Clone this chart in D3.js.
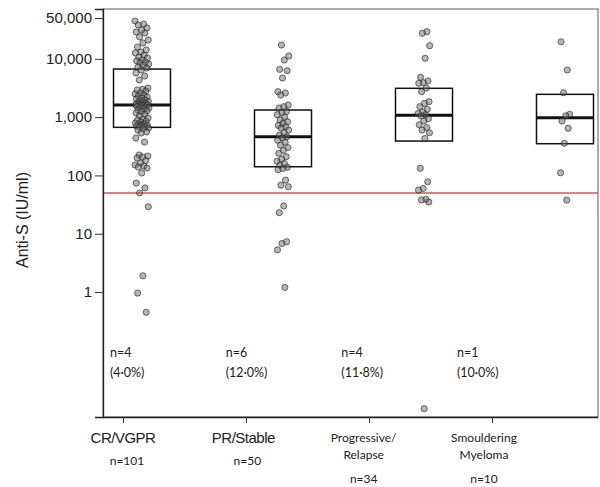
<!DOCTYPE html>
<html>
<head>
<meta charset="utf-8">
<script src="https://cdn.jsdelivr.net/npm/d3@7"></script>
<style>
  body { margin: 0; background: #fff; }
</style>
</head>
<body>
<div class="container"></div>
<script>
const GROUP_LINES = [["CR/VGPR"], ["PR/Stable"], ["Progressive/", "Relapse"], ["Smouldering", "Myeloma"]];
const GROUP_N = ["n=101", "n=50", "n=34", "n=10"];
const BELOW_N = ["n=4", "n=6", "n=4", "n=1"];
const BELOW_PCT = ["(4·0%)", "(12·0%)", "(11·8%)", "(10·0%)"];
const Y_TICKS = [1, 10, 100, 1000, 10000, 50000];
const THRESHOLD = 50;

// quartiles
const BOX_Q1 = [668, 141, 389, 350];
const BOX_MEDIAN = [1610, 461, 1074, 977];
const BOX_Q3 = [6680, 1324, 3120, 2460];

// anti-S values (IU/ml), one array per group
const CR_VGPR = [
  44500, 39500, 38000, 33800, 31200, 28800, 27700, 23700, 21000, 18700,
  15900, 14200, 13100, 12600, 11600, 10700, 10300, 9550, 9200, 8820,
  8480, 8100, 7830, 7230, 6950,
  6430, 5710, 5070, 4330, 3150, 3000, 2920, 2800, 2590, 2500,
  2390, 2300, 2210, 2130, 2050, 1970, 1900, 1850, 1800, 1750,
  1700, 1680, 1650, 1630, 1615,
  1610,
  1580, 1530, 1490, 1450, 1430, 1380, 1320, 1280, 1240, 1180,
  1120, 1050, 966, 920, 892, 850, 820, 792, 770, 750,
  732, 720, 705, 690, 676,
  650, 640, 600, 555, 534, 438, 374, 224, 215, 207,
  199, 180, 163, 151, 145, 139, 134, 110, 74, 61,
  50, 29, 1.9, 0.96, 0.45
];
const PR_STABLE = [
  17250, 11170, 9540, 6600, 6250, 4690, 2730, 2590, 2390, 1610,
  1510, 1430,
  1250, 1200, 1100, 1000, 892, 835, 780, 720, 684, 650,
  600, 540, 490,
  461,
  440, 400, 370, 330, 300, 270, 240, 210, 190, 175,
  160, 150,
  138, 132, 125, 83, 68, 64, 30, 23, 7.3, 6.8,
  5.3, 1.2
];
const PROGRESSIVE = [
  29200, 27400, 16800, 10200, 4820, 4160, 3890, 3800, 3160,
  2730, 1840, 1720, 1510, 1360, 1230, 1150, 1100,
  1050, 940, 860, 740, 660, 600, 540, 430,
  133, 78, 60, 56, 39, 38, 35, 0.01
];
const SMOULDERING = [19600, 6430, 2620, 1117, 1050, 858, 643, 355, 111, 37.8];

const VALUES = [CR_VGPR, PR_STABLE, PROGRESSIVE, SMOULDERING];

const W = 600, H = 487;
const LEFT = 103, RIGHT = 598, TOP = 9, BOTTOM = 417;
const BOX_W = 57;
const JITTER = [7, 6, 6, 5];

const svg = d3.select(".container").append("svg")
  .attr("width", W)
  .attr("height", H)
  .style("display", "block");

svg.append("rect").attr("width", W).attr("height", H).attr("fill", "#fff");

let y = d3.scaleLog().domain([0.0072, 71500]).range([BOTTOM, TOP]);

let groupIdx = d3.range(GROUP_LINES.length);
// ticks / labels / boxes are not quite aligned in the original figure
let xTick = d3.scalePoint().domain(groupIdx).range([123, 492]);
let xLabel = d3.scalePoint().domain(groupIdx).range([123, 484]);
let xBox = d3.scalePoint().domain(groupIdx).range([142, 565]);
let xNote = d3.scalePoint().domain(groupIdx).range([110, 457]);

// frame
svg.append("rect")
  .attr("x", LEFT).attr("y", TOP)
  .attr("width", RIGHT - LEFT).attr("height", BOTTOM - TOP)
  .attr("fill", "none")
  .attr("stroke", "#777")
  .attr("stroke-width", 1.2);

// threshold line
svg.append("line")
  .attr("x1", LEFT).attr("x2", RIGHT)
  .attr("y1", y(THRESHOLD)).attr("y2", y(THRESHOLD))
  .attr("stroke", "#d9534f")
  .attr("stroke-width", 1.6);

// y axis
let yAxis = svg.append("g")
  .attr("transform", `translate(${LEFT},0)`)
  .call(d3.axisLeft(y).tickValues(Y_TICKS).tickFormat(d3.format(",")).tickSize(8).tickPadding(3));
yAxis.select(".domain").attr("stroke", "#222").attr("stroke-width", 1.3);
yAxis.selectAll(".tick line").attr("stroke", "#333");
yAxis.selectAll("text")
  .attr("fill", "#222")
  .attr("font-family", "Liberation Sans, Arial, sans-serif")
  .attr("font-size", "15px");

// x axis (ticks only)
let xAxis = svg.append("g")
  .attr("transform", `translate(0,${BOTTOM})`)
  .call(d3.axisBottom(xTick).tickFormat("").tickSize(6));
xAxis.select(".domain").attr("d", `M${LEFT},0.5H${RIGHT}`).attr("stroke", "#222").attr("stroke-width", 1.3);
xAxis.selectAll(".tick line").attr("stroke", "#333");

svg.append("text")
  .attr("transform", `translate(28,220) rotate(-90)`)
  .attr("text-anchor", "middle")
  .attr("font-family", "Liberation Sans, Arial, sans-serif")
  .attr("font-size", "16px")
  .attr("fill", "#222")
  .text("Anti-S (IU/ml)");

// boxes
let boxes = svg.selectAll(".box")
  .data(groupIdx)
  .enter()
  .append("g")
  .attr("class", "box");

boxes.append("rect")
  .attr("x", i => xBox(i) - BOX_W / 2)
  .attr("y", i => y(BOX_Q3[i]))
  .attr("width", BOX_W)
  .attr("height", i => y(BOX_Q1[i]) - y(BOX_Q3[i]))
  .attr("fill", "none")
  .attr("stroke", "#111")
  .attr("stroke-width", 1.5);

boxes.append("line")
  .attr("x1", i => xBox(i) - BOX_W / 2)
  .attr("x2", i => xBox(i) + BOX_W / 2)
  .attr("y1", i => y(BOX_MEDIAN[i]))
  .attr("y2", i => y(BOX_MEDIAN[i]))
  .attr("stroke", "#111")
  .attr("stroke-width", 3);

// points, jittered with a golden-ratio sequence (deterministic)
let points = [];
VALUES.forEach((vals, g) => {
  vals.forEach((v, i) => {
    let j = ((i * 0.6180339 + g * 0.37) % 1) * 2 - 1;
    points.push({ g: g, v: v, dx: j * JITTER[g] });
  });
});

svg.selectAll(".pt")
  .data(points)
  .enter()
  .append("circle")
  .attr("class", "pt")
  .attr("cx", d => xBox(d.g) + d.dx)
  .attr("cy", d => y(d.v))
  .attr("r", 3.1)
  .attr("fill", "rgba(110,110,110,0.5)")
  .attr("stroke", "rgba(30,30,30,0.6)")
  .attr("stroke-width", 1);

// below-threshold notes
let notes = svg.selectAll(".note")
  .data(groupIdx)
  .enter()
  .append("g")
  .attr("class", "note")
  .attr("font-family", "Lato, 'Open Sans', sans-serif")
  .attr("font-size", "12.5px")
  .attr("fill", "#222")
  .attr("text-anchor", "start");
notes.append("text").attr("x", i => xNote(i)).attr("y", 357).text(i => BELOW_N[i]);
notes.append("text").attr("x", i => xNote(i)).attr("y", 377).text(i => BELOW_PCT[i]);

// category labels
let labels = svg.selectAll(".cat")
  .data(groupIdx)
  .enter()
  .append("g")
  .attr("class", "cat")
  .attr("text-anchor", "middle")
  .attr("fill", "#222");

labels.each(function (i) {
  let g = d3.select(this);
  let lines = GROUP_LINES[i];
  if (lines.length === 1) {
    g.append("text")
      .attr("x", xLabel(i)).attr("y", 443)
      .attr("font-family", "Liberation Sans, Arial, sans-serif")
      .attr("font-size", "15px")
      .attr("letter-spacing", "-0.5px")
      .text(lines[0]);
    g.append("text")
      .attr("x", xLabel(i) + 4).attr("y", 465)
      .attr("font-family", "Lato, 'Open Sans', sans-serif")
      .attr("font-size", "12px")
      .text(GROUP_N[i]);
  } else {
    lines.forEach((l, k) => {
      g.append("text")
        .attr("x", xLabel(i)).attr("y", 442 + k * 17)
        .attr("font-family", "Lato, 'Open Sans', sans-serif")
        .attr("font-size", "12px")
        .text(l);
    });
    g.append("text")
      .attr("x", xLabel(i)).attr("y", 483)
      .attr("font-family", "Lato, 'Open Sans', sans-serif")
      .attr("font-size", "12px")
      .text(GROUP_N[i]);
  }
});
</script>
</body>
</html>
